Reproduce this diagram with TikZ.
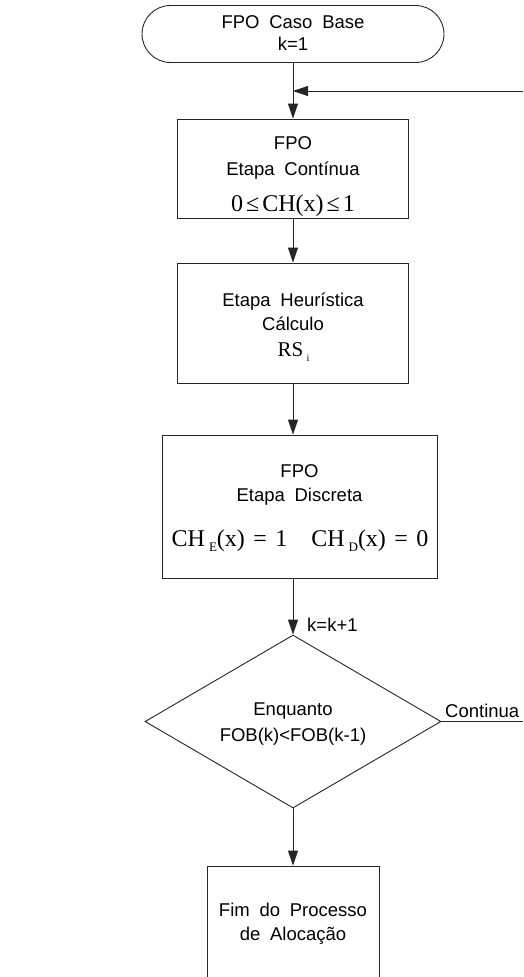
\documentclass[tikz,border=0pt]{standalone}
\usepackage{fontspec}
\setmainfont{Liberation Sans}[WordSpace=1.9]
\newfontfamily\mathserif{Liberation Serif}[WordSpace=1.4]
\usetikzlibrary{arrows.meta,shapes.geometric,shapes.misc}
\begin{document}
\begin{tikzpicture}[x=1pt,y=-1pt,
  shp/.style={draw=black!85, line width=0.9pt, inner sep=0pt},
  conn/.style={draw=black!85, line width=0.9pt},
  arr/.style={conn, -{Triangle[length=15pt,width=10pt]}},
  txt/.style={font=\fontsize{18.5}{20}\selectfont, anchor=base, inner sep=0pt},
  mth/.style={font=\mathserif\fontsize{24}{25}\selectfont, anchor=base, inner sep=0pt}]
\useasboundingbox (0,0) rectangle (523,977);
\fill[white] (0,0) rectangle (523,977);
\begin{scope}
\clip (0,0) rectangle (523,977);
% shapes
\node[shp, rounded rectangle, minimum width=302pt, minimum height=57pt] (start) at (293,34) {};
\node[shp, rectangle, minimum width=231pt, minimum height=99pt] (b1) at (293,168.5) {};
\node[shp, rectangle, minimum width=231pt, minimum height=120pt] (b2) at (293,323) {};
\node[shp, rectangle, minimum width=275pt, minimum height=143pt] (b3) at (299.5,506.5) {};
\node[shp, diamond, minimum width=296pt, minimum height=173pt, aspect=1.71] (dia) at (293,721.5) {};
\node[shp, rectangle, minimum width=172pt, minimum height=130pt] (fim) at (293,931) {};
% texts
\node[txt] (t0a) at (293,28.3) {FPO Caso Base};
\node[txt] (t0b) at (293,50) {k=1};
\node[txt] (t1a) at (293,149.3) {FPO};
\node[txt] (t1b) at (293,175) {Etapa Contínua};
\node[mth] (t1c) at (293,211.7) {0\hspace{3pt}≤\hspace{3pt}CH(x)\hspace{3pt}≤\hspace{3pt}1};
\node[txt] (t2a) at (293,306.7) {Etapa Heurística};
\node[txt] (t2b) at (293,330) {Cálculo};
\node[mth, font=\mathserif\fontsize{21}{22}\selectfont] (t2c) at (293.5,356.7) {RS\,\raisebox{-5pt}{\fontsize{10}{10}\selectfont i}};
\node[txt] (t3a) at (299.5,477.3) {FPO};
\node[txt] (t3b) at (299.5,501.7) {Etapa Discreta};
\node[mth] (t3c) at (300,546.7) {CH\,\raisebox{-5pt}{\fontsize{13}{13}\selectfont E}(x) = 1\hspace{24pt}CH\,\raisebox{-5pt}{\fontsize{13}{13}\selectfont D}(x) = 0};
\node[txt, anchor=base west] (tk) at (307,631) {k=k+1};
\node[txt] (tda) at (293,715) {Enquanto};
\node[txt] (tdb) at (293,741.7) {FOB(k)<FOB(k-1)};
\node[txt, anchor=base west] (tcont) at (445,717) {Continua};
\node[txt] (tfa) at (293,916) {Fim do Processo};
\node[txt] (tfb) at (293,940.7) {de Alocação};
% connectors
\coordinate (fbR) at (523,91);
\coordinate (fbJ) at (293,91);
\coordinate (ctR) at (523,721.5);
\draw[arr] (start.south) -- (b1.north);
\draw[arr] (fbR) -- (fbJ);
\draw[arr] (b1.south) -- (b2.north);
\draw[arr] (b2.south) -- (b2.south |- b3.north);
\draw[arr] (b2.south |- b3.south) -- (dia.north);
\draw[arr] (dia.south) -- (fim.north);
\draw[conn] (dia.east) -- (ctR);
\end{scope}
\end{tikzpicture}
\end{document}
